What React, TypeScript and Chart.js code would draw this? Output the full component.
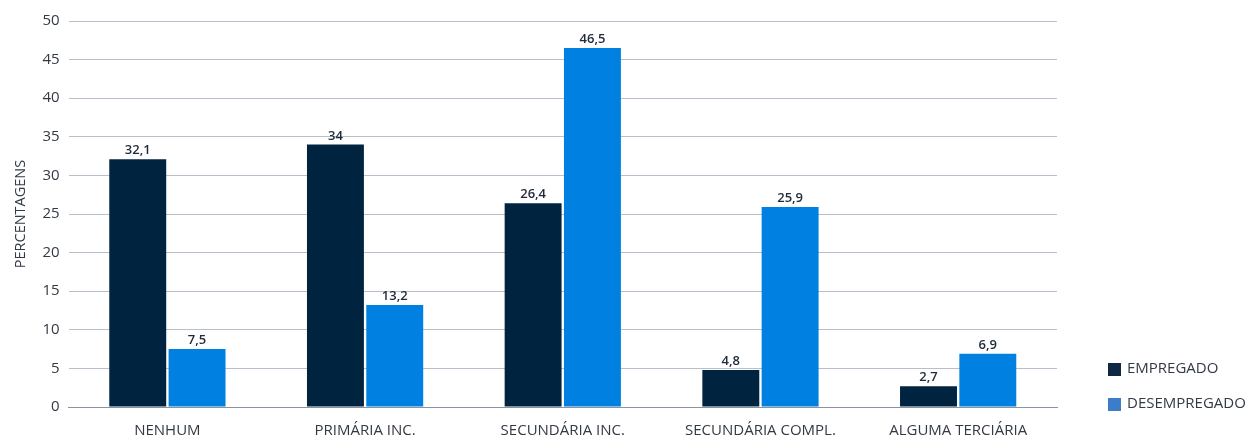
import React, { useEffect, useRef } from "react";
import { Chart, registerables } from "chart.js";

Chart.register(...registerables);

const categories = ["NENHUM", "PRIMÁRIA INC.", "SECUNDÁRIA INC.", "SECUNDÁRIA COMPL.", "ALGUMA TERCIÁRIA"];
const empregado = [32.1, 34, 26.4, 4.8, 2.7];
const desempregado = [7.5, 13.2, 46.5, 25.9, 6.9];
const seriesNames = ["EMPREGADO", "DESEMPREGADO"];
const barColors = ["#00233f", "#0080e0"];
const legendColors = ["#0f2744", "#3d7cc9"];

const FONT = "'Open Sans', 'Noto Sans', sans-serif";
const TEXT = "#333a44";

const fmt = (v: number) => String(v).replace(".", ",");

const valueLabels = {
  id: "valueLabels",
  afterDatasetsDraw(chart: any) {
    const ctx = chart.ctx;
    ctx.save();
    ctx.font = `600 13px ${FONT}`;
    ctx.fillStyle = "#1e2b3a";
    ctx.textAlign = "center";
    ctx.textBaseline = "bottom";
    chart.data.datasets.forEach((ds: any, i: number) => {
      const meta = chart.getDatasetMeta(i);
      meta.data.forEach((bar: any, j: number) => {
        ctx.fillText(fmt(ds.data[j]), bar.x, bar.y - 2);
      });
    });
    ctx.restore();
  },
};

const sideLegend = {
  id: "sideLegend",
  afterDraw(chart: any) {
    const ctx = chart.ctx;
    const area = chart.chartArea;
    ctx.save();
    ctx.font = `15px ${FONT}`;
    ctx.textBaseline = "middle";
    ctx.textAlign = "left";
    const boxX = area.right + 51;
    const textX = area.right + 70;
    chart.data.datasets.forEach((ds: any, i: number) => {
      const y = area.bottom - 38 + i * 35;
      ctx.fillStyle = legendColors[i];
      ctx.fillRect(boxX, y - 6, 13, 13);
      ctx.fillStyle = TEXT;
      ctx.fillText(ds.label, textX, y);
    });
    ctx.restore();
  },
};

export default function App() {
  const ref = useRef<HTMLCanvasElement>(null);
  useEffect(() => {
    document.body.style.margin = "0";
    const chart = new Chart(ref.current!, {
      type: "bar",
      data: {
        labels: categories,
        datasets: [
          { label: seriesNames[0], data: empregado, backgroundColor: barColors[0], barPercentage: 0.96, categoryPercentage: 0.6 },
          { label: seriesNames[1], data: desempregado, backgroundColor: barColors[1], barPercentage: 0.96, categoryPercentage: 0.6 },
        ],
      },
      options: {
        animation: false,
        responsive: false,
        layout: { padding: { top: 21, right: 190, left: 8, bottom: 0 } },
        plugins: {
          tooltip: { enabled: false },
          legend: { display: false },
        },
        scales: {
          x: {
            grid: { display: false, drawTicks: false },
            border: { color: "#8a93a3", width: 1 },
            ticks: { font: { family: FONT, size: 15 }, color: TEXT, padding: 15, maxRotation: 0 },
            afterFit: (scale: any) => {
              scale.height = 32;
            },
          },
          y: {
            min: 0,
            max: 50,
            ticks: { stepSize: 5, font: { family: FONT, size: 15 }, color: TEXT, padding: 9 },
            grid: { color: "#b8bfcc", drawTicks: false },
            border: { display: false },
            title: { display: true, text: "PERCENTAGENS", font: { family: FONT, size: 14.5 }, color: TEXT, padding: 4 },
          },
        },
      },
      plugins: [valueLabels, sideLegend],
    });
    return () => chart.destroy();
  }, []);
  return <canvas ref={ref} width={1247} height={439} style={{ display: "block" }} />;
}
